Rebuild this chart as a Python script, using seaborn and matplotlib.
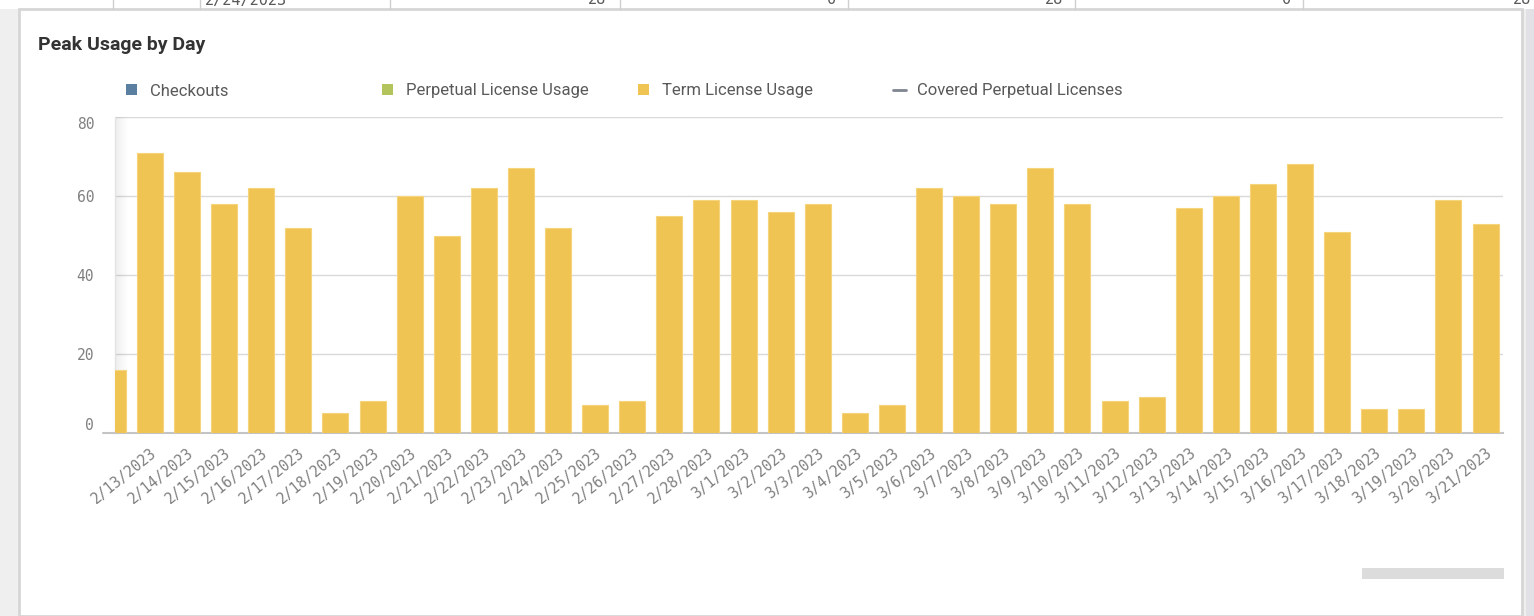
import numpy as np
import pandas as pd
import matplotlib
matplotlib.use("Agg")
import matplotlib.pyplot as plt
import seaborn as sns
from matplotlib.patches import Rectangle
from matplotlib.lines import Line2D

# peak usage per day (first day is only partly scrolled into view)
dates = ['2/12/2023', '2/13/2023', '2/14/2023', '2/15/2023', '2/16/2023', '2/17/2023',
         '2/18/2023', '2/19/2023', '2/20/2023', '2/21/2023', '2/22/2023', '2/23/2023',
         '2/24/2023', '2/25/2023', '2/26/2023', '2/27/2023', '2/28/2023', '3/1/2023',
         '3/2/2023', '3/3/2023', '3/4/2023', '3/5/2023', '3/6/2023', '3/7/2023',
         '3/8/2023', '3/9/2023', '3/10/2023', '3/11/2023', '3/12/2023', '3/13/2023',
         '3/14/2023', '3/15/2023', '3/16/2023', '3/17/2023', '3/18/2023', '3/19/2023',
         '3/20/2023', '3/21/2023']
term_usage = [16, 71, 66, 58, 62, 52, 5, 8, 60, 50, 62, 67, 52, 7, 8, 55, 59, 59,
              56, 58, 5, 7, 62, 60, 58, 67, 58, 8, 9, 57, 60, 63, 68, 51, 6, 6, 59, 53]

legend_labels = ['Checkouts', 'Perpetual License Usage', 'Term License Usage',
                 'Covered Perpetual Licenses']
legend_colors = ['#5a7fa0', '#b3c45d', '#f0c452', '#7d8590']

# top strip of the table behind the card (cut off)
table_texts = ['2/24/2023', '28', '0', '28', '0', '28']

W, H = 1534, 616
df = pd.DataFrame({'date': dates, 'usage': term_usage})

sns.set_theme(style='white')
plt.rcParams['font.family'] = ['Roboto', 'DejaVu Sans']

fig = plt.figure(figsize=(W / 100, H / 100), dpi=100)
fig.patch.set_facecolor('#efefef')


def px(x, y):
    # pixel position (from top-left) -> figure fraction
    return x / W, 1 - y / H


def add_rect(x0, y0, x1, y1, z=-2, **kw):
    fx, fy = px(x0, y1)
    fig.patches.append(Rectangle((fx, fy), (x1 - x0) / W, (y1 - y0) / H,
                                 transform=fig.transFigure, figure=fig, zorder=z, **kw))


# table fragment on top
add_rect(0, 0, W, 9, facecolor='white', edgecolor='none')
for xl in [113, 200, 390, 620, 848, 1075, 1303]:
    fig.lines.append(Line2D([xl / W, xl / W], [1 - 9 / H, 1], transform=fig.transFigure,
                            color='#cfcfcf', lw=1, zorder=-1))
tx = [(205, 'left'), (606, 'right'), (836, 'right'), (1063, 'right'), (1291, 'right'), (1531, 'right')]
for (x, ha), t in zip(tx, table_texts):
    fig.text(*px(x, 0), t, ha=ha, va='center', fontsize=11, color='#595959',
             family='DejaVu Sans Mono')

# card
add_rect(19, 9, 1522, 616, facecolor='white', edgecolor='#d6d6d6', lw=2)
add_rect(1526, 9, W, 616, facecolor='#e2e2e6', edgecolor='none')
add_rect(1362, 568, 1504, 579, facecolor='#dcdcdc', edgecolor='none')

fig.text(*px(38, 45), 'Peak Usage by Day', fontsize=14, fontweight='bold',
         color='#333333', va='center', ha='left')

# legend row
leg_x = [126, 382, 638, 893]
for i, (lab, col) in enumerate(zip(legend_labels, legend_colors)):
    x = leg_x[i]
    if i < 3:
        add_rect(x, 84, x + 11, 95, z=1, facecolor=col, edgecolor='none')
    else:
        fig.lines.append(Line2D([x / W, (x + 13) / W], [1 - 90 / H] * 2,
                                transform=fig.transFigure, color=col, lw=2))
    fig.text(*px(x + 24, 95.5), lab, fontsize=12, color='#595959', va='baseline', ha='left')

# plot area
left, right, top, bottom = 115, 1503, 117, 433
ax = fig.add_axes([left / W, 1 - bottom / H, (right - left) / W, (bottom - top) / H])
ax.set_zorder(2)
sns.barplot(data=df, x='date', y='usage', color='#f0c452', saturation=1,
            width=0.7, ax=ax, zorder=3, edgecolor='#f5d47c', linewidth=0.8)
ax.set_xlim(0.057, 37.47)
ax.set_ylim(0, 80)
ax.set_yticks([0, 20, 40, 60, 80])
ax.set_xlabel('')
ax.set_ylabel('')
ax.grid(axis='y', color='#d9d9d9', lw=1, zorder=0)
ax.set_axisbelow(True)
for s in ['top', 'right']:
    ax.spines[s].set_visible(False)
ax.spines['left'].set_color('#e4e4e4')
ax.spines['left'].set_linewidth(1)
ax.spines['bottom'].set_color('#c4c4c4')
ax.spines['bottom'].set_linewidth(1.5)
ax.tick_params(axis='y', length=0, pad=15, labelsize=10.5, labelcolor='#808080')
ax.tick_params(axis='x', length=0, pad=9, labelsize=10.5, labelcolor='#808080')
for lab in ax.get_yticklabels() + ax.get_xticklabels():
    lab.set_family('DejaVu Sans Mono')
plt.setp(ax.get_xticklabels(), rotation=39, ha='right', rotation_mode='anchor')
# end labels sit inside the plot range
ylabs = ax.get_yticklabels()
ylabs[0].set_va('bottom')
ylabs[-1].set_va('top')

# bottom axis line reaches a little to the left of the plot
fig.lines.append(Line2D([103 / W, left / W], [1 - bottom / H] * 2, transform=fig.transFigure,
                        color='#c4c4c4', lw=1.5, zorder=3))

# soft scroll shadow on the left edge of the plot area (behind the bars)
grad = np.linspace(0.07, 0, 50).reshape(1, -1)
ax.imshow(np.dstack([np.zeros_like(grad)] * 3 + [grad]), extent=(0, 0.01, 0, 1),
          transform=ax.transAxes, aspect='auto', zorder=1)

fig.savefig('out.png', dpi=100, facecolor=fig.get_facecolor())
